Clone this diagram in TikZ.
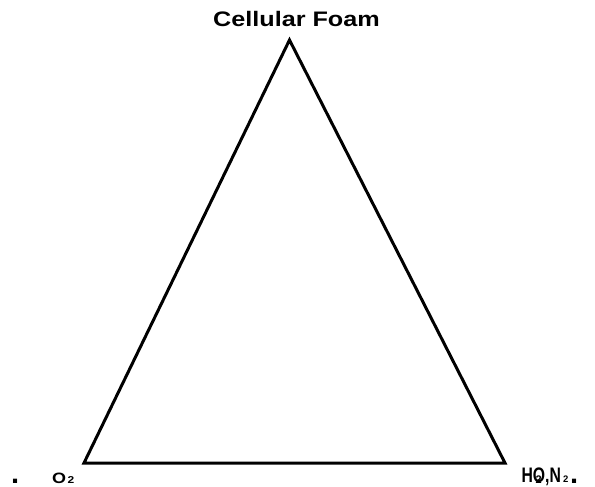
\documentclass[tikz,border=0pt]{standalone}
\usepackage{fontspec}
\setmainfont{Liberation Sans}
\begin{document}
\begin{tikzpicture}[x=1pt,y=-1pt,
  lbl/.style={inner sep=0pt,outer sep=0pt,font=\bfseries},
  tri/.style={line width=3pt,line join=miter}]
\useasboundingbox (0,0) rectangle (595,487);
\coordinate (top) at (289.5,40);
\coordinate (bl) at (84,463);
\coordinate (br) at (505,463);
\draw[tri] (top) -- (bl) -- (br) -- cycle;
\node[lbl,anchor=base] (title) at (296.5,27) {\scalebox{1.2}[1]{\fontsize{21}{21}\selectfont Cellular Foam}};
\node[lbl,anchor=base west] (ldot) at (11,483) {\fontsize{29}{29}\selectfont .};
\node[lbl,anchor=base west] (o2) at (52,483) {\scalebox{1.2}[1]{\fontsize{15}{15}\selectfont O}};
\node[lbl,anchor=base west] (o2sub) at (67.5,483) {\scalebox{1.2}[1]{\fontsize{10}{10}\selectfont 2}};
\node[lbl,anchor=base west] (hon) at (521.5,482) {\scalebox{0.75}[1]{\fontsize{21}{21}\selectfont HO,N}};
\node[lbl,anchor=base west] (hsub) at (535.5,483) {\fontsize{11}{11}\selectfont 2};
\node[lbl,anchor=base west] (nsub) at (563,482) {\fontsize{9.5}{9.5}\selectfont 2};
\node[lbl,anchor=base west] (rdot) at (570,483) {\fontsize{29}{29}\selectfont .};
\end{tikzpicture}
\end{document}
